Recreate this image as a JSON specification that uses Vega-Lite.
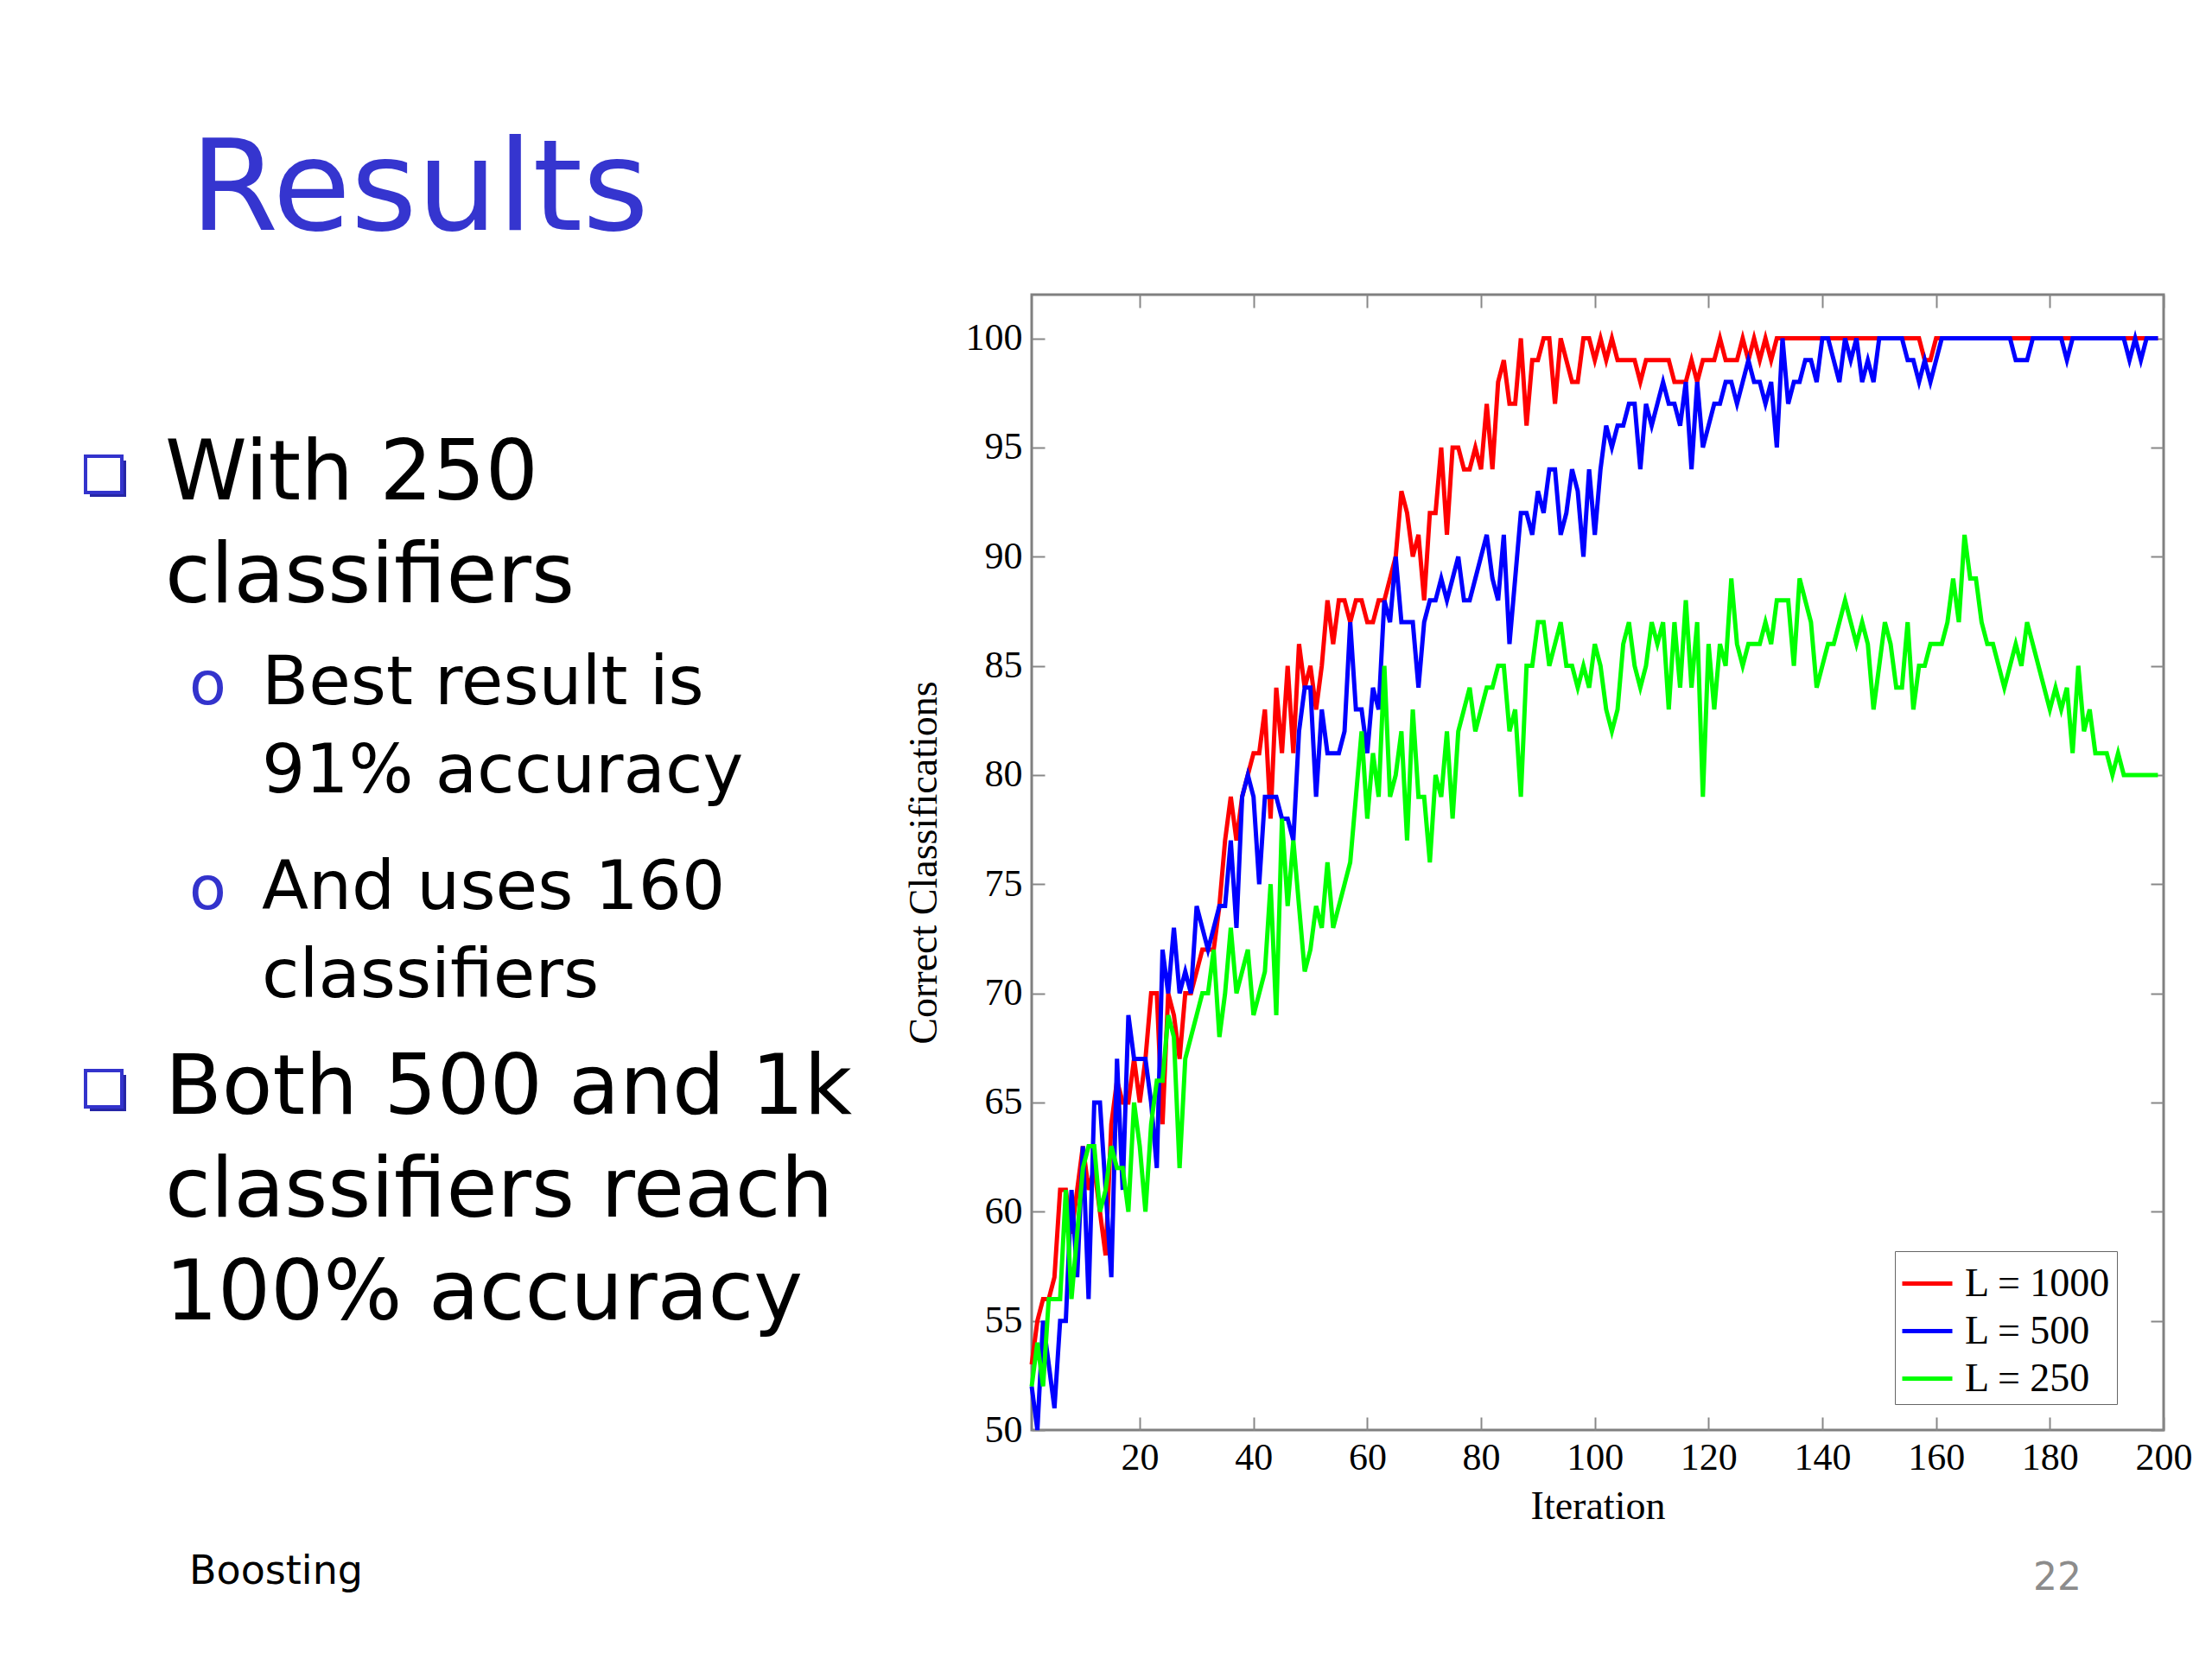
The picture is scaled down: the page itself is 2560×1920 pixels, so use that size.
{
  "$schema": "https://vega.github.io/schema/vega-lite/v6.json",
  "background": "white",
  "padding": {"left": 0, "top": 147, "right": 20, "bottom": 40},
  "title": {"text": "Results", "anchor": "start", "frame": "bounds", "dx": 220, "offset": -74, "baseline": "alphabetic", "font": "DejaVu Sans", "fontSize": 147, "fontWeight": "normal", "color": "#3535CF"},
  "spacing": 194,
  "bounds": "flush",
  "datasets": {
    "bullets": [
      {"item": 1, "level": "main", "text": "With 250\nclassifiers"},
      {"item": 2, "level": "sub", "text": "Best result is\n91% accuracy"},
      {"item": 3, "level": "sub", "text": "And uses 160\nclassifiers"},
      {"item": 4, "level": "main", "text": "Both 500 and 1k\nclassifiers reach\n100% accuracy"}
    ],
    "curves": [
      {"it":1,"L = 1000":53,"L = 500":52,"L = 250":52},
      {"it":2,"L = 1000":55,"L = 500":50,"L = 250":54},
      {"it":3,"L = 1000":56,"L = 500":55,"L = 250":52},
      {"it":4,"L = 1000":56,"L = 500":53,"L = 250":56},
      {"it":5,"L = 1000":57,"L = 500":51,"L = 250":56},
      {"it":6,"L = 1000":61,"L = 500":55,"L = 250":56},
      {"it":7,"L = 1000":61,"L = 500":55,"L = 250":61},
      {"it":8,"L = 1000":59,"L = 500":61,"L = 250":56},
      {"it":9,"L = 1000":61,"L = 500":57,"L = 250":59},
      {"it":10,"L = 1000":63,"L = 500":63,"L = 250":62},
      {"it":11,"L = 1000":61,"L = 500":56,"L = 250":63},
      {"it":12,"L = 1000":62,"L = 500":65,"L = 250":63},
      {"it":13,"L = 1000":60,"L = 500":65,"L = 250":60},
      {"it":14,"L = 1000":58,"L = 500":61,"L = 250":61},
      {"it":15,"L = 1000":64,"L = 500":57,"L = 250":63},
      {"it":16,"L = 1000":66,"L = 500":67,"L = 250":62},
      {"it":17,"L = 1000":65,"L = 500":61,"L = 250":62},
      {"it":18,"L = 1000":65,"L = 500":69,"L = 250":60},
      {"it":19,"L = 1000":67,"L = 500":67,"L = 250":65},
      {"it":20,"L = 1000":65,"L = 500":67,"L = 250":63},
      {"it":21,"L = 1000":67,"L = 500":67,"L = 250":60},
      {"it":22,"L = 1000":70,"L = 500":65,"L = 250":64},
      {"it":23,"L = 1000":70,"L = 500":62,"L = 250":66},
      {"it":24,"L = 1000":64,"L = 500":72,"L = 250":66},
      {"it":25,"L = 1000":70,"L = 500":70,"L = 250":69},
      {"it":26,"L = 1000":69,"L = 500":73,"L = 250":68},
      {"it":27,"L = 1000":67,"L = 500":70,"L = 250":62},
      {"it":28,"L = 1000":70,"L = 500":71,"L = 250":67},
      {"it":29,"L = 1000":70,"L = 500":70,"L = 250":68},
      {"it":30,"L = 1000":71,"L = 500":74,"L = 250":69},
      {"it":31,"L = 1000":72,"L = 500":73,"L = 250":70},
      {"it":32,"L = 1000":72,"L = 500":72,"L = 250":70},
      {"it":33,"L = 1000":72,"L = 500":73,"L = 250":72},
      {"it":34,"L = 1000":74,"L = 500":74,"L = 250":68},
      {"it":35,"L = 1000":77,"L = 500":74,"L = 250":70},
      {"it":36,"L = 1000":79,"L = 500":77,"L = 250":73},
      {"it":37,"L = 1000":77,"L = 500":73,"L = 250":70},
      {"it":38,"L = 1000":79,"L = 500":79,"L = 250":71},
      {"it":39,"L = 1000":80,"L = 500":80,"L = 250":72},
      {"it":40,"L = 1000":81,"L = 500":79,"L = 250":69},
      {"it":41,"L = 1000":81,"L = 500":75,"L = 250":70},
      {"it":42,"L = 1000":83,"L = 500":79,"L = 250":71},
      {"it":43,"L = 1000":78,"L = 500":79,"L = 250":75},
      {"it":44,"L = 1000":84,"L = 500":79,"L = 250":69},
      {"it":45,"L = 1000":81,"L = 500":78,"L = 250":78},
      {"it":46,"L = 1000":85,"L = 500":78,"L = 250":74},
      {"it":47,"L = 1000":81,"L = 500":77,"L = 250":77},
      {"it":48,"L = 1000":86,"L = 500":82,"L = 250":74},
      {"it":49,"L = 1000":84,"L = 500":84,"L = 250":71},
      {"it":50,"L = 1000":85,"L = 500":84,"L = 250":72},
      {"it":51,"L = 1000":83,"L = 500":79,"L = 250":74},
      {"it":52,"L = 1000":85,"L = 500":83,"L = 250":73},
      {"it":53,"L = 1000":88,"L = 500":81,"L = 250":76},
      {"it":54,"L = 1000":86,"L = 500":81,"L = 250":73},
      {"it":55,"L = 1000":88,"L = 500":81,"L = 250":74},
      {"it":56,"L = 1000":88,"L = 500":82,"L = 250":75},
      {"it":57,"L = 1000":87,"L = 500":87,"L = 250":76},
      {"it":58,"L = 1000":88,"L = 500":83,"L = 250":79},
      {"it":59,"L = 1000":88,"L = 500":83,"L = 250":82},
      {"it":60,"L = 1000":87,"L = 500":81,"L = 250":78},
      {"it":61,"L = 1000":87,"L = 500":84,"L = 250":81},
      {"it":62,"L = 1000":88,"L = 500":83,"L = 250":79},
      {"it":63,"L = 1000":88,"L = 500":88,"L = 250":85},
      {"it":64,"L = 1000":89,"L = 500":87,"L = 250":79},
      {"it":65,"L = 1000":90,"L = 500":90,"L = 250":80},
      {"it":66,"L = 1000":93,"L = 500":87,"L = 250":82},
      {"it":67,"L = 1000":92,"L = 500":87,"L = 250":77},
      {"it":68,"L = 1000":90,"L = 500":87,"L = 250":83},
      {"it":69,"L = 1000":91,"L = 500":84,"L = 250":79},
      {"it":70,"L = 1000":88,"L = 500":87,"L = 250":79},
      {"it":71,"L = 1000":92,"L = 500":88,"L = 250":76},
      {"it":72,"L = 1000":92,"L = 500":88,"L = 250":80},
      {"it":73,"L = 1000":95,"L = 500":89,"L = 250":79},
      {"it":74,"L = 1000":91,"L = 500":88,"L = 250":82},
      {"it":75,"L = 1000":95,"L = 500":89,"L = 250":78},
      {"it":76,"L = 1000":95,"L = 500":90,"L = 250":82},
      {"it":77,"L = 1000":94,"L = 500":88,"L = 250":83},
      {"it":78,"L = 1000":94,"L = 500":88,"L = 250":84},
      {"it":79,"L = 1000":95,"L = 500":89,"L = 250":82},
      {"it":80,"L = 1000":94,"L = 500":90,"L = 250":83},
      {"it":81,"L = 1000":97,"L = 500":91,"L = 250":84},
      {"it":82,"L = 1000":94,"L = 500":89,"L = 250":84},
      {"it":83,"L = 1000":98,"L = 500":88,"L = 250":85},
      {"it":84,"L = 1000":99,"L = 500":91,"L = 250":85},
      {"it":85,"L = 1000":97,"L = 500":86,"L = 250":82},
      {"it":86,"L = 1000":97,"L = 500":89,"L = 250":83},
      {"it":87,"L = 1000":100,"L = 500":92,"L = 250":79},
      {"it":88,"L = 1000":96,"L = 500":92,"L = 250":85},
      {"it":89,"L = 1000":99,"L = 500":91,"L = 250":85},
      {"it":90,"L = 1000":99,"L = 500":93,"L = 250":87},
      {"it":91,"L = 1000":100,"L = 500":92,"L = 250":87},
      {"it":92,"L = 1000":100,"L = 500":94,"L = 250":85},
      {"it":93,"L = 1000":97,"L = 500":94,"L = 250":86},
      {"it":94,"L = 1000":100,"L = 500":91,"L = 250":87},
      {"it":95,"L = 1000":99,"L = 500":92,"L = 250":85},
      {"it":96,"L = 1000":98,"L = 500":94,"L = 250":85},
      {"it":97,"L = 1000":98,"L = 500":93,"L = 250":84},
      {"it":98,"L = 1000":100,"L = 500":90,"L = 250":85},
      {"it":99,"L = 1000":100,"L = 500":94,"L = 250":84},
      {"it":100,"L = 1000":99,"L = 500":91,"L = 250":86},
      {"it":101,"L = 1000":100,"L = 500":94,"L = 250":85},
      {"it":102,"L = 1000":99,"L = 500":96,"L = 250":83},
      {"it":103,"L = 1000":100,"L = 500":95,"L = 250":82},
      {"it":104,"L = 1000":99,"L = 500":96,"L = 250":83},
      {"it":105,"L = 1000":99,"L = 500":96,"L = 250":86},
      {"it":106,"L = 1000":99,"L = 500":97,"L = 250":87},
      {"it":107,"L = 1000":99,"L = 500":97,"L = 250":85},
      {"it":108,"L = 1000":98,"L = 500":94,"L = 250":84},
      {"it":109,"L = 1000":99,"L = 500":97,"L = 250":85},
      {"it":110,"L = 1000":99,"L = 500":96,"L = 250":87},
      {"it":111,"L = 1000":99,"L = 500":97,"L = 250":86},
      {"it":112,"L = 1000":99,"L = 500":98,"L = 250":87},
      {"it":113,"L = 1000":99,"L = 500":97,"L = 250":83},
      {"it":114,"L = 1000":98,"L = 500":97,"L = 250":87},
      {"it":115,"L = 1000":98,"L = 500":96,"L = 250":84},
      {"it":116,"L = 1000":98,"L = 500":98,"L = 250":88},
      {"it":117,"L = 1000":99,"L = 500":94,"L = 250":84},
      {"it":118,"L = 1000":98,"L = 500":98,"L = 250":87},
      {"it":119,"L = 1000":99,"L = 500":95,"L = 250":79},
      {"it":120,"L = 1000":99,"L = 500":96,"L = 250":86},
      {"it":121,"L = 1000":99,"L = 500":97,"L = 250":83},
      {"it":122,"L = 1000":100,"L = 500":97,"L = 250":86},
      {"it":123,"L = 1000":99,"L = 500":98,"L = 250":85},
      {"it":124,"L = 1000":99,"L = 500":98,"L = 250":89},
      {"it":125,"L = 1000":99,"L = 500":97,"L = 250":86},
      {"it":126,"L = 1000":100,"L = 500":98,"L = 250":85},
      {"it":127,"L = 1000":99,"L = 500":99,"L = 250":86},
      {"it":128,"L = 1000":100,"L = 500":98,"L = 250":86},
      {"it":129,"L = 1000":99,"L = 500":98,"L = 250":86},
      {"it":130,"L = 1000":100,"L = 500":97,"L = 250":87},
      {"it":131,"L = 1000":99,"L = 500":98,"L = 250":86},
      {"it":132,"L = 1000":100,"L = 500":95,"L = 250":88},
      {"it":133,"L = 1000":100,"L = 500":100,"L = 250":88},
      {"it":134,"L = 1000":100,"L = 500":97,"L = 250":88},
      {"it":135,"L = 1000":100,"L = 500":98,"L = 250":85},
      {"it":136,"L = 1000":100,"L = 500":98,"L = 250":89},
      {"it":137,"L = 1000":100,"L = 500":99,"L = 250":88},
      {"it":138,"L = 1000":100,"L = 500":99,"L = 250":87},
      {"it":139,"L = 1000":100,"L = 500":98,"L = 250":84},
      {"it":140,"L = 1000":100,"L = 500":100,"L = 250":85},
      {"it":141,"L = 1000":100,"L = 500":100,"L = 250":86},
      {"it":142,"L = 1000":100,"L = 500":99,"L = 250":86},
      {"it":143,"L = 1000":100,"L = 500":98,"L = 250":87},
      {"it":144,"L = 1000":100,"L = 500":100,"L = 250":88},
      {"it":145,"L = 1000":100,"L = 500":99,"L = 250":87},
      {"it":146,"L = 1000":100,"L = 500":100,"L = 250":86},
      {"it":147,"L = 1000":100,"L = 500":98,"L = 250":87},
      {"it":148,"L = 1000":100,"L = 500":99,"L = 250":86},
      {"it":149,"L = 1000":100,"L = 500":98,"L = 250":83},
      {"it":150,"L = 1000":100,"L = 500":100,"L = 250":85},
      {"it":151,"L = 1000":100,"L = 500":100,"L = 250":87},
      {"it":152,"L = 1000":100,"L = 500":100,"L = 250":86},
      {"it":153,"L = 1000":100,"L = 500":100,"L = 250":84},
      {"it":154,"L = 1000":100,"L = 500":100,"L = 250":84},
      {"it":155,"L = 1000":100,"L = 500":99,"L = 250":87},
      {"it":156,"L = 1000":100,"L = 500":99,"L = 250":83},
      {"it":157,"L = 1000":100,"L = 500":98,"L = 250":85},
      {"it":158,"L = 1000":99,"L = 500":99,"L = 250":85},
      {"it":159,"L = 1000":99,"L = 500":98,"L = 250":86},
      {"it":160,"L = 1000":100,"L = 500":99,"L = 250":86},
      {"it":161,"L = 1000":100,"L = 500":100,"L = 250":86},
      {"it":162,"L = 1000":100,"L = 500":100,"L = 250":87},
      {"it":163,"L = 1000":100,"L = 500":100,"L = 250":89},
      {"it":164,"L = 1000":100,"L = 500":100,"L = 250":87},
      {"it":165,"L = 1000":100,"L = 500":100,"L = 250":91},
      {"it":166,"L = 1000":100,"L = 500":100,"L = 250":89},
      {"it":167,"L = 1000":100,"L = 500":100,"L = 250":89},
      {"it":168,"L = 1000":100,"L = 500":100,"L = 250":87},
      {"it":169,"L = 1000":100,"L = 500":100,"L = 250":86},
      {"it":170,"L = 1000":100,"L = 500":100,"L = 250":86},
      {"it":171,"L = 1000":100,"L = 500":100,"L = 250":85},
      {"it":172,"L = 1000":100,"L = 500":100,"L = 250":84},
      {"it":173,"L = 1000":100,"L = 500":100,"L = 250":85},
      {"it":174,"L = 1000":100,"L = 500":99,"L = 250":86},
      {"it":175,"L = 1000":100,"L = 500":99,"L = 250":85},
      {"it":176,"L = 1000":100,"L = 500":99,"L = 250":87},
      {"it":177,"L = 1000":100,"L = 500":100,"L = 250":86},
      {"it":178,"L = 1000":100,"L = 500":100,"L = 250":85},
      {"it":179,"L = 1000":100,"L = 500":100,"L = 250":84},
      {"it":180,"L = 1000":100,"L = 500":100,"L = 250":83},
      {"it":181,"L = 1000":100,"L = 500":100,"L = 250":84},
      {"it":182,"L = 1000":100,"L = 500":100,"L = 250":83},
      {"it":183,"L = 1000":100,"L = 500":99,"L = 250":84},
      {"it":184,"L = 1000":100,"L = 500":100,"L = 250":81},
      {"it":185,"L = 1000":100,"L = 500":100,"L = 250":85},
      {"it":186,"L = 1000":100,"L = 500":100,"L = 250":82},
      {"it":187,"L = 1000":100,"L = 500":100,"L = 250":83},
      {"it":188,"L = 1000":100,"L = 500":100,"L = 250":81},
      {"it":189,"L = 1000":100,"L = 500":100,"L = 250":81},
      {"it":190,"L = 1000":100,"L = 500":100,"L = 250":81},
      {"it":191,"L = 1000":100,"L = 500":100,"L = 250":80},
      {"it":192,"L = 1000":100,"L = 500":100,"L = 250":81},
      {"it":193,"L = 1000":100,"L = 500":100,"L = 250":80},
      {"it":194,"L = 1000":100,"L = 500":99,"L = 250":80},
      {"it":195,"L = 1000":100,"L = 500":100,"L = 250":80},
      {"it":196,"L = 1000":100,"L = 500":99,"L = 250":80},
      {"it":197,"L = 1000":100,"L = 500":100,"L = 250":80},
      {"it":198,"L = 1000":100,"L = 500":100,"L = 250":80},
      {"it":199,"L = 1000":100,"L = 500":100,"L = 250":80}
    ]
  },
  "hconcat": [
    {
      "width": 1000,
      "height": 1314,
      "view": {"fill": "white", "stroke": null},
      "data": {"name": "bullets"},
      "title": {"text": "Boosting", "orient": "bottom", "anchor": "start", "frame": "bounds", "dx": 219, "offset": 178, "baseline": "alphabetic", "font": "DejaVu Sans", "fontSize": 46, "fontWeight": "normal", "color": "black"},
      "encoding": {
        "x": {"field": "level", "type": "nominal", "scale": {"type": "point", "domain": ["main", "sub"], "range": [191, 303], "padding": 0}, "axis": null},
        "y": {"field": "item", "type": "quantitative", "scale": {"domain": [1, 4], "range": [237, 948], "zero": false, "nice": false}, "axis": null}
      },
      "layer": [
        {
          "transform": [{"filter": "datum.level === 'main'"}],
          "mark": {"type": "point", "shape": "square", "size": 1764, "filled": true, "fill": "#2626a6", "strokeWidth": 0, "opacity": 1, "xOffset": -66, "yOffset": -24}
        },
        {
          "transform": [{"filter": "datum.level === 'main'"}],
          "mark": {"type": "point", "shape": "square", "size": 1764, "filled": true, "fill": "white", "stroke": "#3333CC", "strokeWidth": 4, "opacity": 1, "xOffset": -71, "yOffset": -29}
        },
        {
          "transform": [{"filter": "datum.level === 'main'"}],
          "mark": {"type": "text", "align": "left", "baseline": "alphabetic", "font": "DejaVu Sans", "fontSize": 96, "lineHeight": 119, "lineBreak": "\n", "color": "black"},
          "encoding": {"text": {"field": "text", "type": "nominal"}}
        },
        {
          "transform": [{"filter": "datum.level === 'sub'"}],
          "mark": {"type": "text", "align": "left", "baseline": "alphabetic", "font": "DejaVu Sans", "fontSize": 79, "lineHeight": 102, "lineBreak": "\n", "color": "black"},
          "encoding": {"text": {"field": "text", "type": "nominal"}}
        },
        {
          "transform": [{"filter": "datum.level === 'sub'"}],
          "mark": {"type": "text", "text": "o", "align": "left", "baseline": "alphabetic", "dx": -84, "font": "DejaVu Sans", "fontSize": 70, "color": "#3333CC"}
        }
      ]
    },
    {
      "width": 1310,
      "height": 1314,
      "view": {"stroke": "#808080", "strokeWidth": 3},
      "data": {"name": "curves"},
      "transform": [{"fold": ["L = 1000", "L = 500", "L = 250"], "as": ["series", "value"]}],
      "title": {"text": "22", "orient": "bottom", "anchor": "end", "frame": "group", "dx": -95, "offset": 74, "baseline": "alphabetic", "font": "DejaVu Sans", "fontSize": 44, "fontWeight": "normal", "color": "#8c8c8c"},
      "encoding": {
        "color": {
          "field": "series", "type": "nominal",
          "scale": {"domain": ["L = 1000", "L = 500", "L = 250"], "range": ["#ff0000", "#0000ff", "#00ff00"]},
          "legend": {"orient": "none", "legendX": 2193, "legendY": 1107, "title": null, "symbolType": "stroke", "symbolStrokeWidth": 5, "symbolSize": 3364, "labelFont": "Liberation Serif", "labelFontSize": 46, "labelLimit": 500, "labelColor": "black", "strokeColor": "#666666", "fillColor": "white", "padding": 6, "rowPadding": -9, "labelOffset": 12}
        }
      },
      "layer": [
        {
          "transform": [{"filter": "datum.series === 'L = 1000'"}],
          "mark": {"type": "line", "strokeWidth": 5, "interpolate": "linear"},
          "encoding": {
            "x": {"field": "it", "type": "quantitative", "scale": {"domain": [1, 200], "nice": false, "zero": false},
              "axis": {"orient": "bottom", "values": [20, 40, 60, 80, 100, 120, 140, 160, 180, 200], "format": "d", "title": "Iteration", "domain": false, "grid": false, "tickSize": -15, "tickColor": "#888888", "tickWidth": 2, "labelPadding": 25, "labelFont": "Liberation Serif", "labelFontSize": 44, "labelColor": "black", "labelFlush": false, "labelOverlap": false, "titleFont": "Liberation Serif", "titleFontSize": 46, "titleFontWeight": "normal", "titleColor": "black", "titlePadding": 12}},
            "y": {"field": "value", "type": "quantitative", "scale": {"domain": [50, 102], "nice": false, "zero": false},
              "axis": {"orient": "left", "values": [50, 55, 60, 65, 70, 75, 80, 85, 90, 95, 100], "format": "d", "title": "Correct Classifications", "domain": false, "grid": false, "tickSize": -15, "tickColor": "#888888", "tickWidth": 2, "labelPadding": 26, "labelFont": "Liberation Serif", "labelFontSize": 44, "labelColor": "black", "labelFlush": false, "labelOverlap": false, "titleFont": "Liberation Serif", "titleFontSize": 46, "titleFontWeight": "normal", "titleColor": "black", "titlePadding": 24}}
          }
        },
        {
          "transform": [{"filter": "datum.series === 'L = 500'"}],
          "mark": {"type": "line", "strokeWidth": 5, "interpolate": "linear"},
          "encoding": {
            "x": {"field": "it", "type": "quantitative", "scale": {"domain": [1, 200], "nice": false, "zero": false},
              "axis": {"orient": "top", "values": [20, 40, 60, 80, 100, 120, 140, 160, 180, 200], "labels": false, "title": null, "domain": false, "grid": false, "tickSize": -15, "tickColor": "#888888", "tickWidth": 2}},
            "y": {"field": "value", "type": "quantitative", "scale": {"domain": [50, 102], "nice": false, "zero": false},
              "axis": {"orient": "right", "values": [50, 55, 60, 65, 70, 75, 80, 85, 90, 95, 100], "labels": false, "title": null, "domain": false, "grid": false, "tickSize": -15, "tickColor": "#888888", "tickWidth": 2}}
          }
        },
        {
          "transform": [{"filter": "datum.series === 'L = 250'"}],
          "mark": {"type": "line", "strokeWidth": 5, "interpolate": "linear"},
          "encoding": {
            "x": {"field": "it", "type": "quantitative", "scale": {"domain": [1, 200], "nice": false, "zero": false}, "axis": null},
            "y": {"field": "value", "type": "quantitative", "scale": {"domain": [50, 102], "nice": false, "zero": false}, "axis": null}
          }
        }
      ],
      "resolve": {"axis": {"x": "independent", "y": "independent"}}
    }
  ]
}
